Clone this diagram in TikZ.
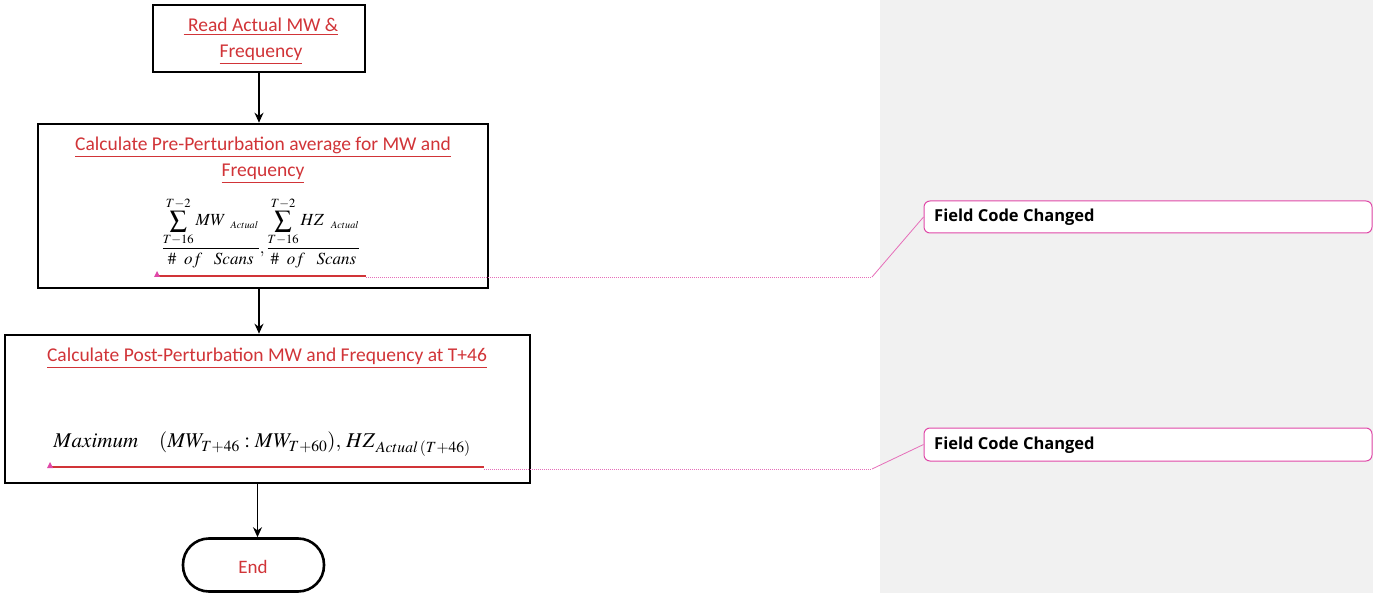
\documentclass[tikz,border=0pt]{standalone}
\usepackage{mathptmx}
\usepackage{fontspec}
\setmainfont{Carlito}
\newfontfamily\cmtfont{Open Sans}
\usetikzlibrary{arrows.meta,calc}
\definecolor{trk}{RGB}{209,52,56}
\definecolor{cmtb}{RGB}{224,72,168}
\definecolor{cmtl}{RGB}{230,110,185}
\definecolor{pane}{RGB}{241,241,241}
\tikzset{
  procbox/.style={draw=black,line width=2.6pt,fill=white,inner sep=0pt},
  flowarrow/.style={-{Stealth[length=10pt,width=9pt]},line width=1.3pt},
  redtxt/.style={text=trk,font=\fontsize{19.5}{26}\selectfont,align=center,inner sep=0pt},
  cmtbox/.style={draw=cmtb,line width=1pt,fill=white,rounded corners=6pt,inner sep=0pt},
  cmttxt/.style={font=\cmtfont\bfseries\fontsize{16.5}{18}\selectfont,anchor=west,inner sep=0pt},
  leader/.style={draw=cmtl,line width=0.8pt},
  dotleader/.style={draw=cmtl,line width=0.9pt,dash pattern=on 1pt off 1pt},
  redline/.style={draw=trk,line width=1.6pt},
  tri/.style={fill=cmtb,draw=none}
}
\newcommand{\actsub}{{\scriptscriptstyle Actual}}
\begin{document}
\begin{tikzpicture}[x=1pt,y=-1pt]
\useasboundingbox (0,0) rectangle (1373,593);
\fill[pane] (880,0) rectangle (1373,593);
% boxes
\node[procbox,minimum width=212pt,minimum height=67pt] (b1) at (259,38.5) {};
\node[redtxt] (t1) at (261,41) {\underline{\ Read Actual MW \&}\\\underline{Frequency}};
\node[procbox,minimum width=450pt,minimum height=164pt] (b2) at (263,206) {};
\node[redtxt] (t2) at (263,160) {\underline{Calculate Pre-Perturbation average for MW and}\\\underline{Frequency}};
\node[inner sep=0pt] (f1) at (261,233) {\fontsize{17}{19}\selectfont$\displaystyle \frac{\displaystyle\sum_{T-16}^{T-2} MW_{\ \ \actsub}}{\#\ \ of\ \ \ Scans}, \frac{\displaystyle\sum_{T-16}^{T-2} HZ_{\ \ \actsub}}{\#\ \ of\ \ \ Scans}$};
\node[procbox,minimum width=525pt,minimum height=148pt] (b3) at (267.5,409) {};
\node[redtxt] (t3) at (267,358) {\underline{Calculate Post-Perturbation MW and Frequency at T+46}};
\node[inner sep=0pt] (f2) at (262,444) {\fontsize{21}{24}\selectfont$Maximum\quad (MW_{T+46}:MW_{T+60}),\, HZ_{\,Actual\,(T+46)}$};
\node[draw=black,line width=2.6pt,fill=white,rounded corners=26pt,minimum width=141pt,minimum height=53pt,inner sep=0pt] (e) at (253.5,565) {};
\node[text=trk,font=\fontsize{19}{20}\selectfont,inner sep=0pt] (et) at (253,567) {End};
% arrows
\draw[flowarrow] (b1.south) -- (b1.south |- b2.north);
\draw[flowarrow] (b2.south) ++(-4,0) coordinate (a2s) -- (a2s |- b3.north);
\draw[flowarrow] (b3.south) ++(-10,0) coordinate (a3s) -- (a3s |- e.north);
% comment boxes
\node[cmtbox,minimum width=448pt,minimum height=32pt] (c1) at (1148,217) {};
\node[cmttxt] (c1t) at (934,217) {Field Code Changed};
\node[cmtbox,minimum width=448pt,minimum height=33pt] (c2) at (1148,444.5) {};
\node[cmttxt] (c2t) at (934,445) {Field Code Changed};
% change marks
\coordinate (m1) at (157,276);
\coordinate (m1e) at (366,276);
\coordinate (k1) at (872,277);
\draw[redline] (m1) -- (m1e);
\draw[dotleader] (m1e |- k1) -- (k1);
\draw[leader] (k1) -- (c1.west);
\fill[tri] (m1) ++(-3,1) -- ++(6,0) -- ++(-3,-6) -- cycle;
\coordinate (m2) at (50,467);
\coordinate (m2e) at (484,467);
\coordinate (k2) at (872,469);
\draw[redline] (m2) -- (m2e);
\draw[dotleader] (m2e |- k2) -- (k2);
\draw[leader] (k2) -- (c2.west);
\fill[tri] (m2) ++(-3,1) -- ++(6,0) -- ++(-3,-6) -- cycle;
\end{tikzpicture}
\end{document}
